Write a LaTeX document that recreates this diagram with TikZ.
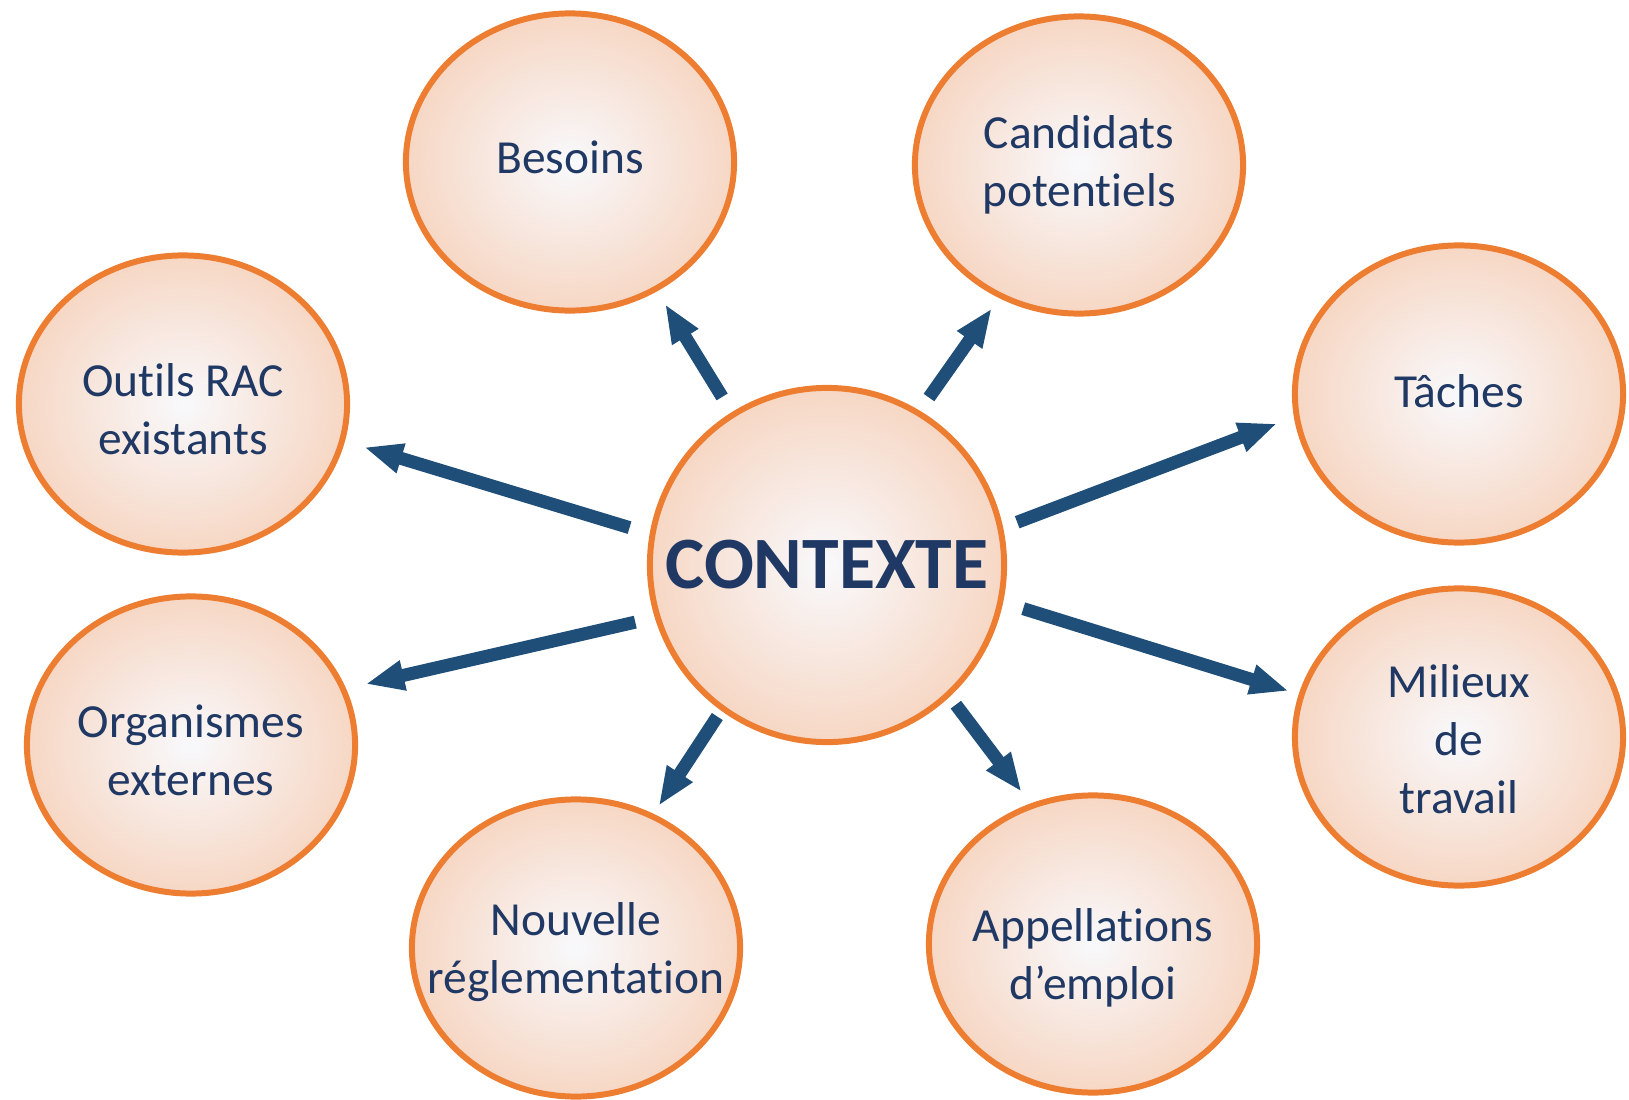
\documentclass[tikz,border=0pt]{standalone}
\usepackage{fontspec}
\setmainfont{Carlito}[Ligatures=NoCommon]
\usetikzlibrary{shapes.geometric,arrows.meta}

\definecolor{bubbleorange}{HTML}{ED7D31}
\definecolor{bubblepeach}{HTML}{F7D7C4}
\definecolor{bubblewhite}{HTML}{F8F9FC}
\definecolor{textnavy}{HTML}{203864}
\definecolor{arrowblue}{HTML}{1F4E79}

\tikzset{
	bubble/.style={ellipse, draw=bubbleorange, line width=1.7pt, inner color=bubblewhite, outer color=bubblepeach, minimum width=3.28cm, minimum height=2.97cm, inner sep=0pt},
	bubbletext/.style={text=textnavy, align=center, font=\fontsize{13.5}{16.5}\selectfont},
	hub/.style={circle, draw=bubbleorange, line width=1.7pt, inner color=bubblewhite, outer color=bubblepeach, minimum size=3.54cm, inner sep=0pt, text=textnavy, font=\fontsize{21}{25}\selectfont\bfseries},
	link/.style={draw=arrowblue, line width=3.7pt, -{Triangle[length=11pt,width=8pt]}}
}

\begin{document}
\begin{tikzpicture}[x=0.01cm, y=-0.01cm]
	
	\useasboundingbox (0,0) rectangle (1629,1100);
	
	% Central node
	\node[hub] at (827,565) (ctx) {CONTEXTE};
	
	% Surrounding bubbles
	\node[bubble, label={[bubbletext, yshift=0.05cm]center:Besoins}] at (570,162) (bes) {};
	\node[bubble, label={[bubbletext]center:{Candidats\\potentiels}}] at (1079,165) (can) {};
	\node[bubble, label={[bubbletext, yshift=0.03cm]center:Tâches}] at (1459,394) (tac) {};
	\node[bubble, label={[bubbletext, yshift=-0.05cm]center:{Outils RAC\\existants}}] at (183,404) (out) {};
	\node[bubble, label={[bubbletext, yshift=-0.05cm]center:{Organismes\\externes}}] at (191,745) (org) {};
	\node[bubble, label={[bubbletext, yshift=-0.02cm]center:{Milieux\\de\\travail}}] at (1459,737) (mil) {};
	\node[bubble, label={[bubbletext, yshift=-0.04cm]center:{Nouvelle\\réglementation}}] at (576,948) (nou) {};
	\node[bubble, label={[bubbletext, yshift=-0.14cm]center:{Appellations\\d’emploi}}] at (1093,944) (app) {};
	
	% Arrows from the centre outwards
	\draw[link, shorten <=0.18cm, shorten >=0.15cm] (ctx.122) -- (bes.-56);
	\draw[link, shorten <=0.16cm, shorten >=0.125cm] (ctx.59) -- (can.-121);
	\draw[link, shorten <=0.15cm, shorten >=0.18cm] (ctx.12) -- (tac.188);
	\draw[link, shorten <=0.21cm, shorten >=0.20cm] (ctx.170) -- (out.-13.5);
	\draw[link, shorten <=0.20cm, shorten >=0.20cm] (ctx.197.5) -- (org.20);
	\draw[link, shorten <=0.21cm, shorten >=0.105cm] (ctx.-12) -- (mil.165);
	\draw[link, shorten <=0.10cm, shorten >=0.145cm] (ctx.-47.5) -- (app.114.6);
	\draw[link, shorten <=0.07cm, shorten >=0.094cm] (ctx.-126) -- (nou.60.5);
	
\end{tikzpicture}
\end{document}
